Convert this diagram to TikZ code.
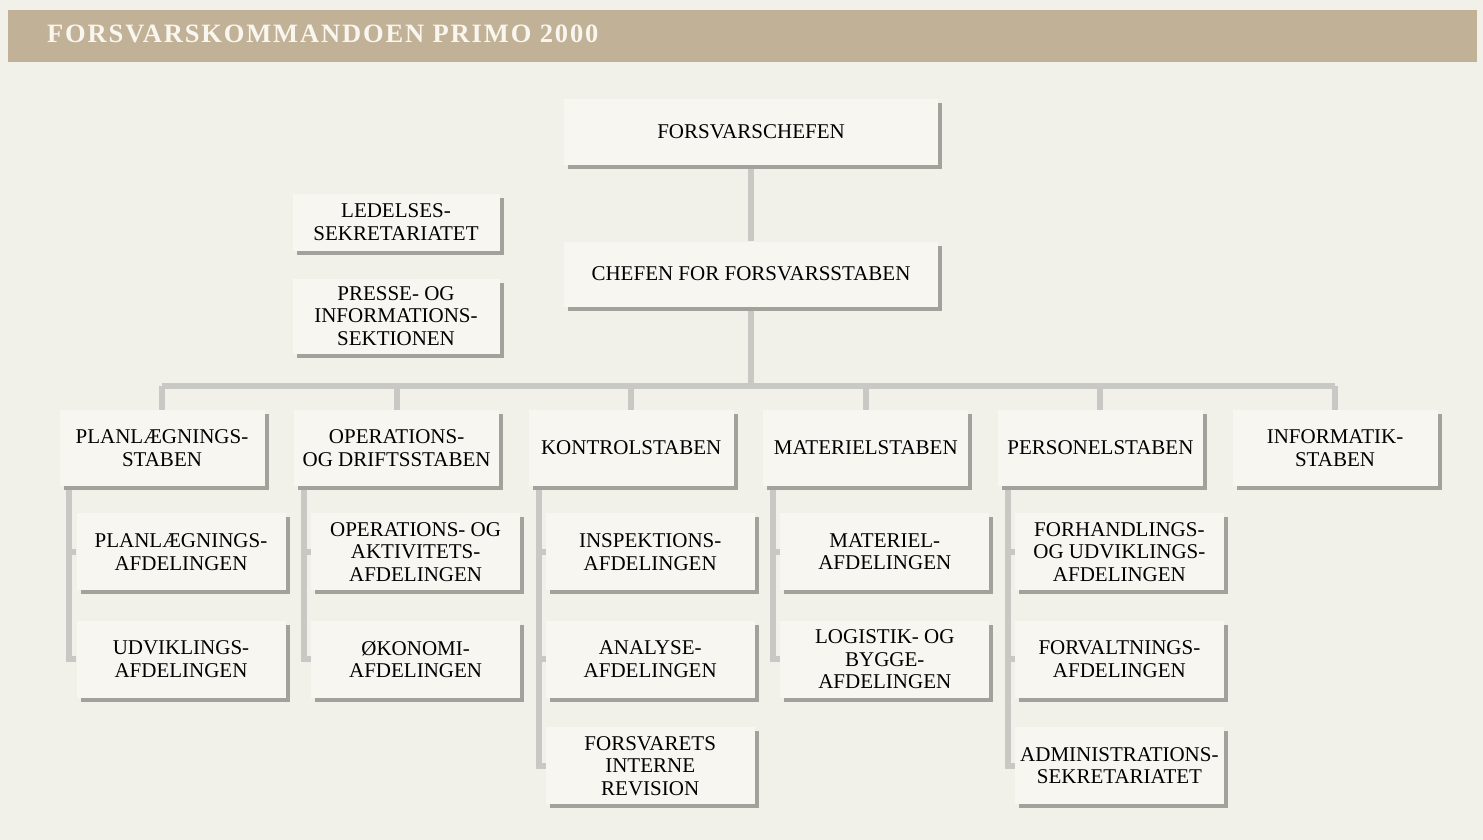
\documentclass[tikz,border=0pt]{standalone}
\usepackage{fontspec}
\setmainfont{Liberation Serif}
\newfontfamily\titlefont[LetterSpace=7]{Liberation Serif}
\usepackage{tikz}
\usetikzlibrary{positioning}
\usetikzlibrary{shadows}
\usetikzlibrary{backgrounds}
\definecolor{paper}{RGB}{241,240,233}
\definecolor{boxfill}{RGB}{247,246,241}
\definecolor{shadowgray}{RGB}{162,162,157}
\definecolor{linkgray}{RGB}{200,200,196}
\definecolor{titlebar}{RGB}{193,177,150}
\definecolor{titletext}{RGB}{249,246,239}
\tikzset{
    org chart/.style={
            x=1pt,y=-1pt,
            unit/.style={rectangle, fill=boxfill, align=center, inner sep=2pt,
                font=\fontsize{21}{22.5}\selectfont,
                general shadow={fill=shadowgray, shadow xshift=4pt, shadow yshift=-4pt}},
            chiefbox/.style={unit, minimum width=374pt, minimum height=65pt},
            sidebox/.style={unit, minimum width=207pt},
            staff/.style={unit, minimum width=205pt, minimum height=76pt},
            dept/.style={unit, minimum width=209pt, minimum height=77pt},
            link/.style={draw=linkgray, line width=6pt}
        }
    }

\begin{document}
\begin{tikzpicture}[org chart]
        \useasboundingbox (0,0) rectangle (1483,840);
        % top of the chart
        \node (fch) [chiefbox] at (751,132) {FORSVARSCHEFEN};
        \node (cfs) [chiefbox] at (751,274) {CHEFEN FOR FORSVARSSTABEN};
        \node (led) [sidebox, minimum height=57pt] at (396,222) {LEDELSES-\\SEKRETARIATET};
        \node (pres) [sidebox, minimum height=75pt] at (396,316) {PRESSE- OG\\INFORMATIONS-\\SEKTIONEN};
        % the six staffs
        \node (plst) [staff] at (162,448) {PLANLÆGNINGS-\\STABEN};
        \node (opst) [staff, right=29.2pt of plst] {OPERATIONS-\\OG DRIFTSSTABEN};
        \node (kost) [staff, right=29.2pt of opst] {KONTROLSTABEN};
        \node (mast) [staff, right=29.2pt of kost] {MATERIELSTABEN};
        \node (pest) [staff, right=29.2pt of mast] {PERSONELSTABEN};
        \node (inst) [staff, right=29.2pt of pest] {INFORMATIK-\\STABEN};
        % departments under each staff
        \node (plafd) [dept, anchor=north west] at ([xshift=17pt, yshift=-27pt]plst.south west) {PLANLÆGNINGS-\\AFDELINGEN};
        \node (udafd) [dept, below=30pt of plafd] {UDVIKLINGS-\\AFDELINGEN};
        \node (opafd) [dept, anchor=north west] at ([xshift=17pt, yshift=-27pt]opst.south west) {OPERATIONS- OG\\AKTIVITETS-\\AFDELINGEN};
        \node (okafd) [dept, below=30pt of opafd] {ØKONOMI-\\AFDELINGEN};
        \node (inafd) [dept, anchor=north west] at ([xshift=17pt, yshift=-27pt]kost.south west) {INSPEKTIONS-\\AFDELINGEN};
        \node (anafd) [dept, below=30pt of inafd] {ANALYSE-\\AFDELINGEN};
        \node (rev) [dept, below=29pt of anafd] {FORSVARETS\\INTERNE\\REVISION};
        \node (maafd) [dept, anchor=north west] at ([xshift=17pt, yshift=-27pt]mast.south west) {MATERIEL-\\AFDELINGEN};
        \node (loafd) [dept, below=30pt of maafd] {LOGISTIK- OG\\BYGGE-\\AFDELINGEN};
        \node (foafd) [dept, anchor=north west] at ([xshift=17pt, yshift=-27pt]pest.south west) {FORHANDLINGS-\\OG UDVIKLINGS-\\AFDELINGEN};
        \node (fvafd) [dept, below=30pt of foafd] {FORVALTNINGS-\\AFDELINGEN};
        \node (adm) [dept, below=29pt of fvafd] {ADMINISTRATIONS-\\SEKRETARIATET};
        \coordinate (bus) at (751,386);
        \begin{scope}[on background layer]
            \fill [paper] (0,0) rectangle (1483,840);
            \fill [titlebar] (8,10) rectangle (1477,62);
            \draw [link] (fch) -- (cfs);
            \draw [link] (cfs) -- (bus);
            \draw [link] (plst.north |- bus) -- (inst.north |- bus);
            \foreach \s in {plst,opst,kost,mast,pest,inst}
                \draw [link] (\s.north |- bus) -- (\s.north);
            \foreach \s/\d in {plst/plafd,plst/udafd,opst/opafd,opst/okafd,kost/inafd,kost/anafd,kost/rev,
                    mast/maafd,mast/loafd,pest/foafd,pest/fvafd,pest/adm}
                \draw [link] ([xshift=10pt]\s.south west) |- (\d.west);
        \end{scope}
        \node (title) [anchor=base west, text=titletext, inner sep=0pt,
            font=\titlefont\bfseries\fontsize{26.5}{26.5}\selectfont] at (47,43) {FORSVARSKOMMANDOEN PRIMO 2000};
    \end{tikzpicture}
\end{document}
